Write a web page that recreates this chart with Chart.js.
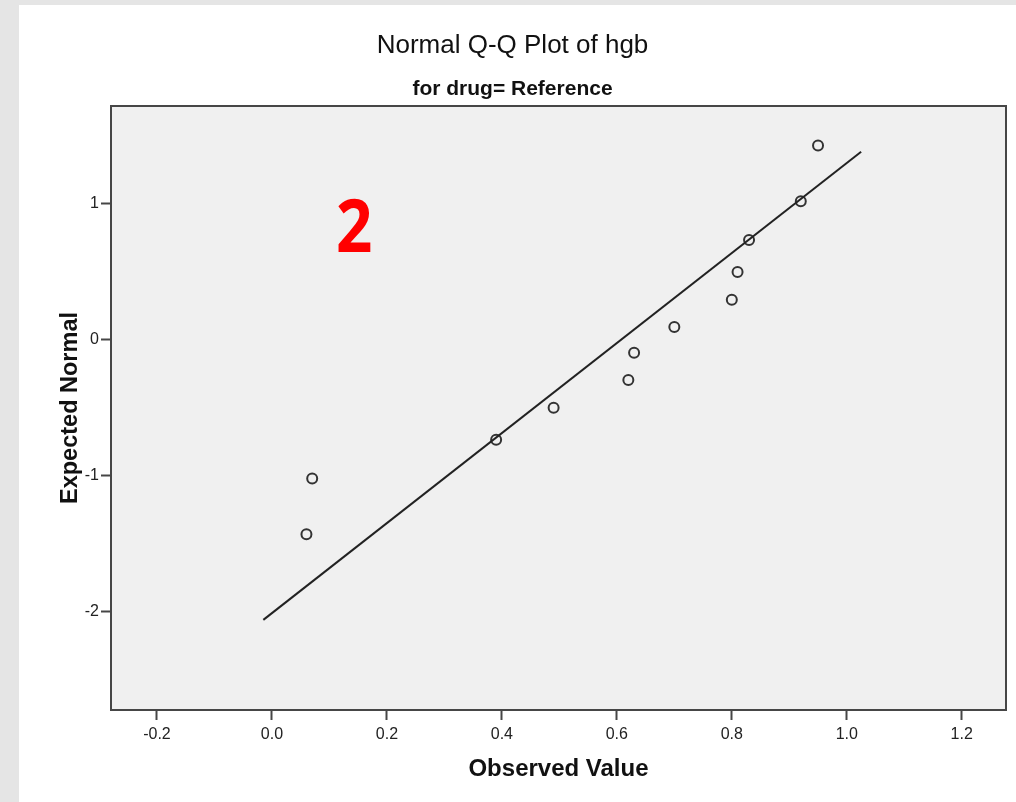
<!DOCTYPE html>
<html>
<head>
<meta charset="utf-8">
<title>Normal Q-Q Plot of hgb</title>
<script src="https://cdn.jsdelivr.net/npm/chart.js@4.4.1/dist/chart.umd.min.js"></script>
<style>
  html, body { margin: 0; padding: 0; background: #e5e5e5; overflow: hidden; }
  #panel { position: absolute; left: 19px; top: 5px; width: 997px; height: 797px; background: #fff; }
</style>
</head>
<body>
<div id="panel"><canvas id="qqChart" width="997" height="797"></canvas></div>
<script>
// observed hgb values and their expected normal scores
const observed = [0.06, 0.07, 0.39, 0.49, 0.62, 0.63, 0.70, 0.80, 0.81, 0.83, 0.92, 0.95];
const expected = [-1.43, -1.02, -0.735, -0.50, -0.295, -0.095, 0.095, 0.295, 0.50, 0.735, 1.02, 1.43];

// reference line end points
const lineX = [-0.015, 1.025];
const lineY = [-2.06, 1.385];

const xTicks = [-0.2, 0.0, 0.2, 0.4, 0.6, 0.8, 1.0, 1.2];
const yTicks = [-2, -1, 0, 1];

const markLabel = '2';
const markAt = { x: 0.143, y: 0.65 };

Chart.defaults.font.family = '"Liberation Sans", Arial, sans-serif';
Chart.defaults.color = '#222';

const plotFrame = {
    id: 'plotFrame',
    beforeDraw(chart) {
        const { ctx, chartArea: a } = chart;
        ctx.save();
        ctx.fillStyle = '#f0f0f0';
        ctx.fillRect(a.left, a.top, a.right - a.left, a.bottom - a.top);
        ctx.restore();
    },
    afterDatasetsDraw(chart) {
        const { ctx, chartArea: a, scales } = chart;
        ctx.save();
        ctx.strokeStyle = '#464646';
        ctx.lineWidth = 2;
        ctx.strokeRect(a.left, a.top, a.right - a.left, a.bottom - a.top);

        // big red marker
        const px = scales.x.getPixelForValue(markAt.x);
        const py = scales.y.getPixelForValue(markAt.y);
        ctx.translate(px, py);
        ctx.scale(0.86, 1);
        ctx.fillStyle = '#ff0000';
        ctx.font = 'bold 74px "Open Sans", "Noto Sans", sans-serif';
        ctx.textAlign = 'center';
        ctx.textBaseline = 'alphabetic';
        ctx.fillText(markLabel, 0, 0);
        ctx.restore();
    }
};

const points = observed.map((v, i) => ({ x: v, y: expected[i] }));
const line = lineX.map((v, i) => ({ x: v, y: lineY[i] }));

new Chart(document.getElementById('qqChart'), {
    type: 'scatter',
    data: {
        datasets: [{
            type: 'line',
            data: line,
            borderColor: '#222',
            borderWidth: 2,
            pointRadius: 0,
            fill: false
        }, {
            data: points,
            pointRadius: 5,
            pointBorderWidth: 2,
            borderColor: '#333',
            backgroundColor: 'rgba(0,0,0,0)',
            pointHoverRadius: 5
        }]
    },
    options: {
        responsive: false,
        animation: false,
        layout: { padding: { right: 10 } },
        plugins: {
            legend: { display: false },
            tooltip: { enabled: false },
            title: {
                display: true,
                text: 'Normal Q-Q Plot of hgb',
                color: '#111',
                font: { size: 26, weight: 'normal' },
                padding: { top: 25.5, bottom: 0 }
            },
            subtitle: {
                display: true,
                text: 'for drug= Reference',
                color: '#111',
                font: { size: 21, weight: 'bold' },
                padding: { top: 14.7, bottom: 4.4 }
            }
        },
        scales: {
            x: {
                type: 'linear',
                min: -0.28,
                max: 1.277,
                afterBuildTicks: s => { s.ticks = xTicks.map(v => ({ value: v })); },
                afterFit: s => { s.height = 92; },
                grid: { drawOnChartArea: false, drawTicks: true, tickLength: 10, tickWidth: 2, tickColor: '#464646' },
                border: { display: false },
                ticks: {
                    padding: 5,
                    color: '#222',
                    font: { size: 16 },
                    callback: v => v.toFixed(1)
                },
                title: {
                    display: true,
                    text: 'Observed Value',
                    color: '#111',
                    font: { size: 24, weight: 'bold' },
                    padding: { top: 0, bottom: 18.6 }
                }
            },
            y: {
                type: 'linear',
                min: -2.723,
                max: 1.721,
                afterBuildTicks: s => { s.ticks = yTicks.map(v => ({ value: v })); },
                afterFit: s => { s.width = 92; },
                grid: { drawOnChartArea: false, drawTicks: true, tickLength: 10, tickWidth: 2, tickColor: '#464646' },
                border: { display: false },
                ticks: {
                    padding: 2,
                    color: '#222',
                    font: { size: 16 },
                    callback: v => String(v)
                },
                title: {
                    display: true,
                    text: 'Expected Normal',
                    color: '#111',
                    font: { size: 23.5, weight: 'bold' },
                    padding: { top: 37, bottom: 0 }
                }
            }
        }
    },
    plugins: [plotFrame]
});
</script>
</body>
</html>
